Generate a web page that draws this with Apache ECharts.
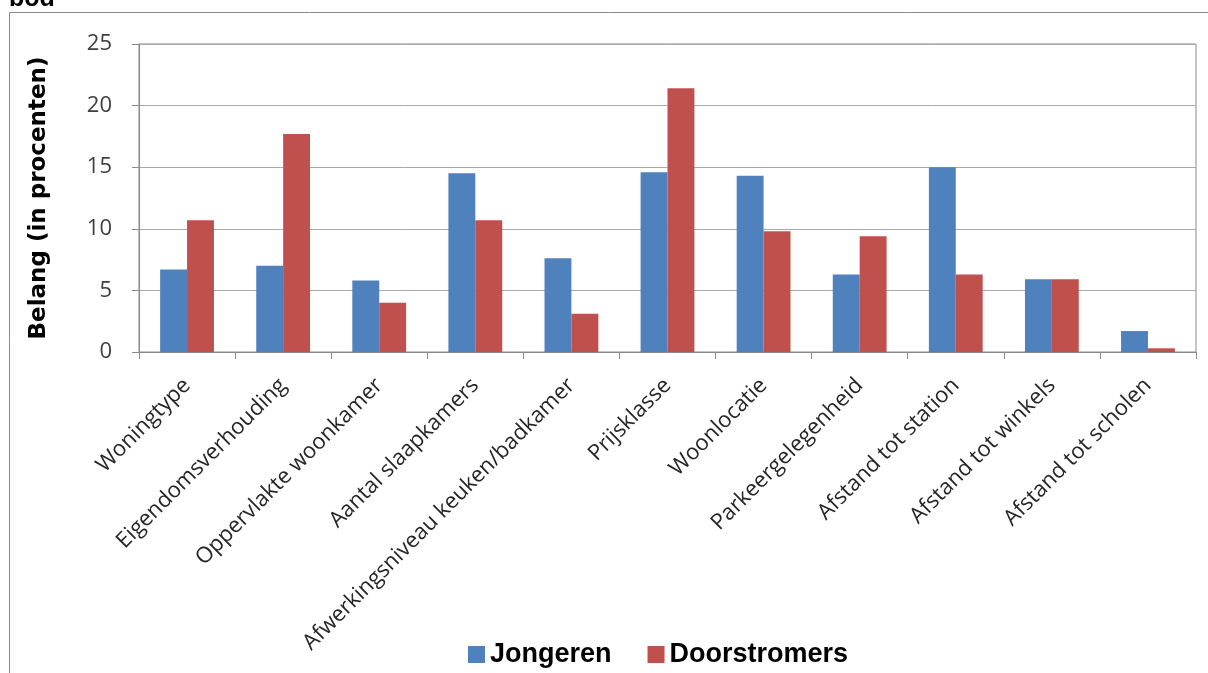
<!DOCTYPE html>
<html>
<head>
<meta charset="utf-8">
<script src="https://cdn.jsdelivr.net/npm/echarts@6/dist/echarts.min.js"></script>
<style>
  html, body { margin: 0; padding: 0; background: #ffffff; }
  #chart { width: 1208px; height: 673px; }
</style>
</head>
<body>
<div id="chart"></div>
<script>
const categories = [
  'Woningtype', 'Eigendomsverhouding', 'Oppervlakte woonkamer', 'Aantal slaapkamers',
  'Afwerkingsniveau keuken/badkamer', 'Prijsklasse', 'Woonlocatie', 'Parkeergelegenheid',
  'Afstand tot station', 'Afstand tot winkels', 'Afstand tot scholen'
];
const jongeren = [6.7, 7.0, 5.8, 14.5, 7.6, 14.6, 14.3, 6.3, 15.0, 5.9, 1.7];
const doorstromers = [10.7, 17.7, 4.0, 10.7, 3.1, 21.4, 9.8, 9.4, 6.3, 5.9, 0.3];
const yTicks = { min: 0, max: 25, interval: 5 };
const yTitle = 'Belang (in procenten)';
const seriesNames = ['Jongeren', 'Doorstromers'];
const cutTitle = 'bod';

const chart = echarts.init(document.getElementById('chart'), null, { renderer: 'canvas' });
chart.setOption({
  animation: false,
  backgroundColor: '#ffffff',
  graphic: [
    {
      type: 'rect', silent: true,
      shape: { x: 9.5, y: 12.5, width: 1400, height: 800 },
      style: { fill: 'none', stroke: '#8a8a8a', lineWidth: 1 }
    },
    {
      type: 'text', silent: true, x: 9, y: -13,
      style: {
        text: cutTitle, fontFamily: 'Liberation Sans', fontWeight: 'bold', fontSize: 25,
        fill: '#000000', verticalAlign: 'top', align: 'left'
      }
    }
  ],
  legend: {
    data: seriesNames,
    left: 463, top: 636,
    itemWidth: 17, itemHeight: 17, itemGap: 36,
    icon: 'rect',
    textStyle: { fontFamily: 'Liberation Sans', fontWeight: 'bold', fontSize: 27, color: '#000000' }
  },
  grid: {
    left: 139, right: 12, top: 44, bottom: 321,
    show: true, borderColor: '#8a8a8a', borderWidth: 1, backgroundColor: 'transparent'
  },
  xAxis: {
    type: 'category',
    data: categories,
    axisLine: { lineStyle: { color: '#8a8a8a', width: 1 } },
    axisTick: { show: true, length: 7, alignWithLabel: false, lineStyle: { color: '#8a8a8a' } },
    axisLabel: {
      rotate: 45, interval: 0, margin: 30,
      fontFamily: 'Open Sans', fontSize: 22, color: '#262626'
    }
  },
  yAxis: {
    type: 'value',
    min: yTicks.min, max: yTicks.max, interval: yTicks.interval,
    name: yTitle,
    nameLocation: 'middle',
    nameRotate: 90,
    nameGap: 88,
    nameTextStyle: { fontFamily: 'DejaVu Sans', fontWeight: 'bold', fontSize: 23, color: '#000000' },
    axisLine: { show: true, lineStyle: { color: '#8a8a8a', width: 1 } },
    axisTick: { show: true, length: 7, inside: false, lineStyle: { color: '#8a8a8a' } },
    axisLabel: { margin: 27, fontFamily: 'Open Sans', fontSize: 22, color: '#404040' },
    splitLine: { show: true, lineStyle: { color: '#a8a8a8', width: 1 } }
  },
  series: [
    {
      name: seriesNames[0], type: 'bar', data: jongeren,
      itemStyle: { color: '#4F81BD' },
      barGap: '0%', barCategoryGap: '44%'
    },
    {
      name: seriesNames[1], type: 'bar', data: doorstromers,
      itemStyle: { color: '#C0504D' },
      barGap: '0%', barCategoryGap: '44%'
    }
  ]
});
</script>
</body>
</html>
